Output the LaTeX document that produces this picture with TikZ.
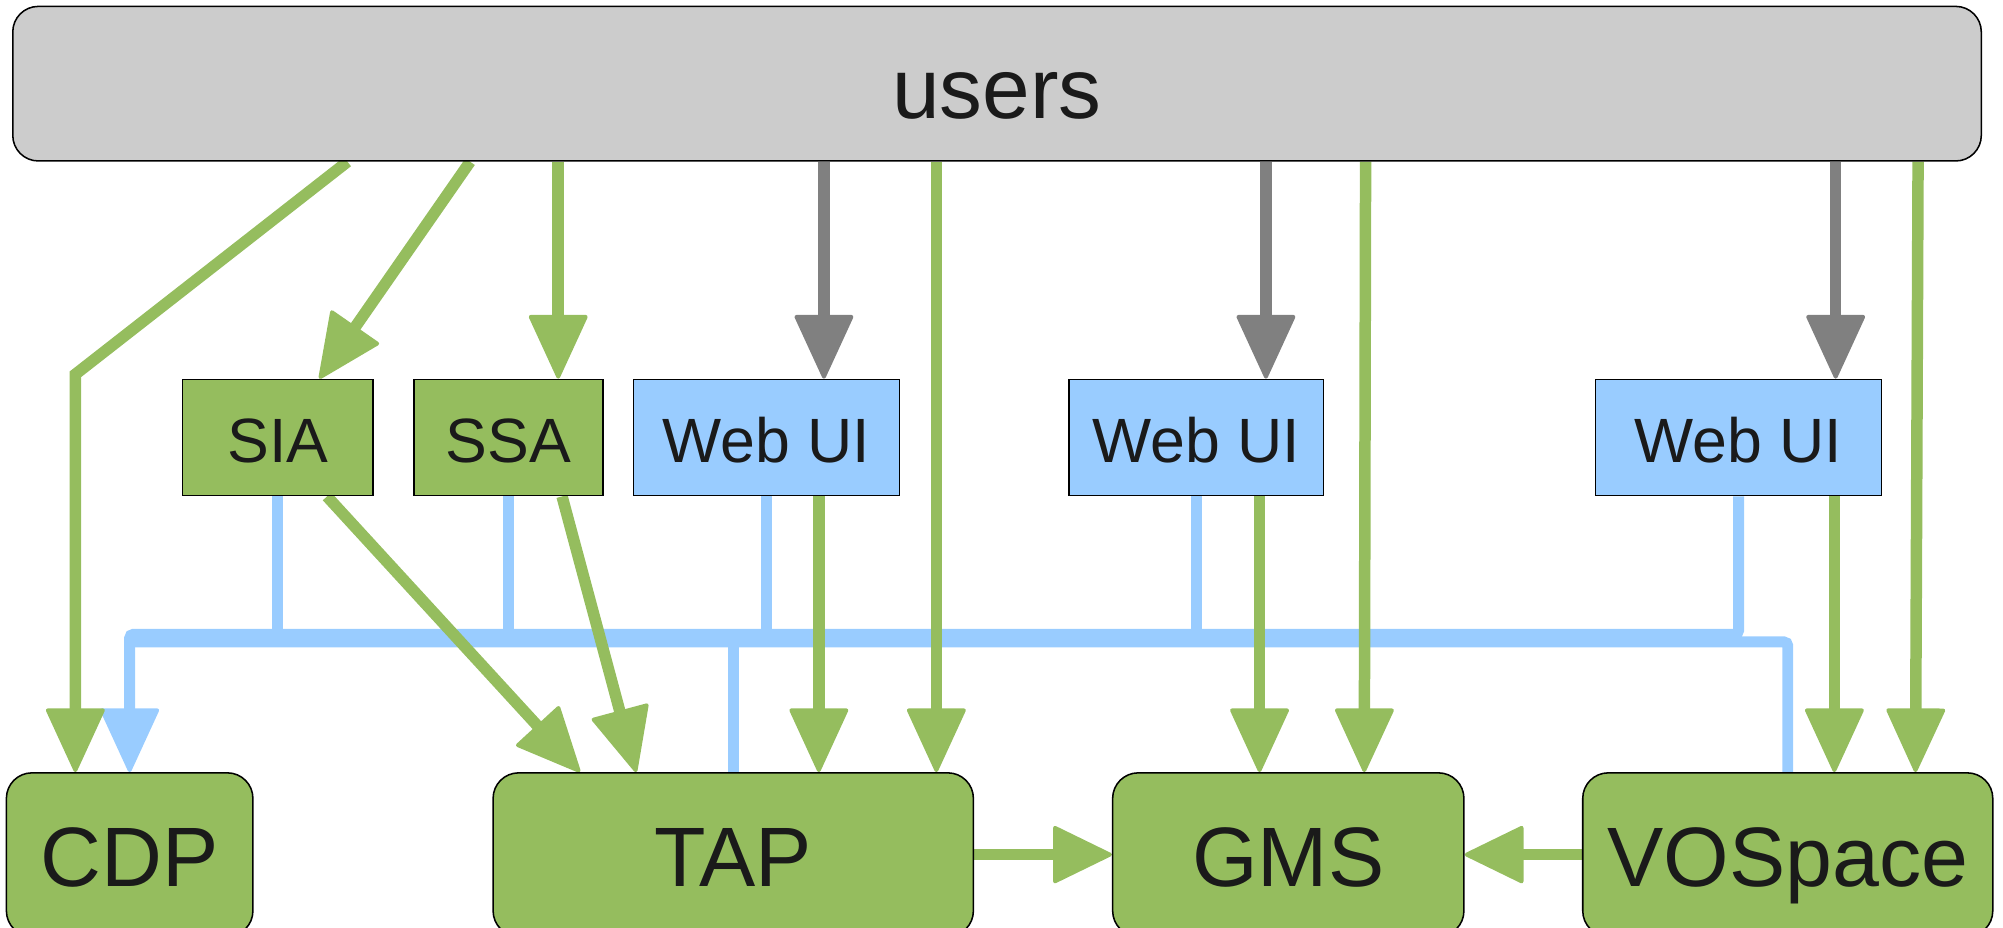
\documentclass[tikz,border=0pt]{standalone}
\usepackage{fontspec}
\setmainfont{Liberation Sans}
\usetikzlibrary{arrows.meta,backgrounds}

\definecolor{leaf}{HTML}{95BD5E}
\definecolor{sky}{HTML}{99CCFF}
\definecolor{shade}{HTML}{CCCCCC}
\definecolor{steel}{HTML}{808080}
\definecolor{ink}{HTML}{1A1A1A}

\tikzset{
  box/.style={draw=black, line width=1.2pt, text=ink, inner sep=0pt},
  service/.style={box, fill=leaf, rounded corners=20pt,
    minimum height=128pt, font=\fontsize{66}{79}\selectfont,
    text height=59.7pt, text depth=10.5pt},
  proto/.style={box, fill=leaf, minimum height=91pt,
    font=\fontsize{49}{59}\selectfont, text height=44.3pt, text depth=5.3pt},
  webui/.style={proto, fill=sky},
  gline/.style={draw=leaf, line width=9pt},
  kline/.style={draw=steel, line width=9pt},
  bline/.style={draw=sky, line width=8.5pt, rounded corners=3pt},
  tipv/.style={-{Triangle[length=52pt,width=47pt,line width=3pt,round]}},
  tiph/.style={-{Triangle[length=48pt,width=46pt,line width=3pt,round]}},
}

\begin{document}
\begin{tikzpicture}[x=1pt, y=-1pt]
  \useasboundingbox (0,0) rectangle (1568,726);
  \clip (0,0) rectangle (1568,726);

  % top row: the users bar
  \node[box, fill=shade, rounded corners=20pt, minimum width=1541pt,
        minimum height=121pt, font=\fontsize{67}{80}\selectfont,
        text height=60.6pt, text depth=6.6pt] (users) at (780.5,65.5) {users};

  % middle row: protocol services and web front ends
  \node[proto, minimum width=149pt] (sia) at (217.5,342.5) {SIA};
  \node[proto, minimum width=148pt] (ssa) at (398,342.5) {SSA};
  \node[webui, minimum width=208pt] (webA) at (600,342.5) {Web UI};
  \node[webui, minimum width=199pt] (webB) at (936.5,342.5) {Web UI};
  \node[webui, minimum width=224pt] (webC) at (1361,342.5) {Web UI};

  % bottom row: back-end services
  \node[service, minimum width=193pt] (cdp) at (101.5,669) {CDP};
  \node[service, minimum width=376pt] (tap) at (574,669) {TAP};
  \node[service, minimum width=275pt] (gms) at (1008.5,669) {GMS};
  \node[service, minimum width=321pt] (vos) at (1399.5,669) {VOSpace};

  \coordinate (cdpbend) at (59,293);
  \coordinate (busU) at (101.5,496.5);
  \coordinate (busL) at (101.5,502.5);

  \begin{pgfonlayer}{background}
    % shared blue bus
    \draw[bline, tipv] (webC.south) |- (busU) -- (busU |- cdp.north);
    \draw[bline] (vos.north) |- (busL);
    \draw[bline] (tap.north) -- (tap.north |- busL);
    \draw[bline] (sia.south) -- (sia.south |- busU);
    \draw[bline] (ssa.south) -- (ssa.south |- busU);
    \draw[bline] (webA.south) -- (webA.south |- busU);
    \draw[bline] (webB.south) -- (webB.south |- busU);

    % users to services
    \draw[gline, tipv] (272,0 |- users.south) -- (cdpbend) -- (cdpbend |- cdp.north);
    \draw[gline, tipv] (368,0 |- users.south) -- (250,0 |- sia.north);
    \draw[gline, tipv] (437,0 |- users.south) -- (437,0 |- ssa.north);
    \draw[kline, tipv] (645,0 |- users.south) -- (645,0 |- webA.north);
    \draw[gline, tipv] (733,0 |- users.south) -- (733,0 |- tap.north);
    \draw[kline, tipv] (991,0 |- users.south) -- (991,0 |- webB.north);
    \draw[gline, tipv] (1069,0 |- users.south) -- (1068,0 |- gms.north);
    \draw[kline, tipv] (1437,0 |- users.south) -- (1437,0 |- webC.north);
    \draw[gline, tipv] (1501.5,0 |- users.south) -- (1499.5,0 |- vos.north);

    % middle row to back ends
    \draw[gline, tipv] (256,0 |- sia.south) -- (454,0 |- tap.north);
    \draw[gline, tipv] (440,0 |- ssa.south) -- (498,0 |- tap.north);
    \draw[gline, tipv] (641,0 |- webA.south) -- (641,0 |- tap.north);
    \draw[gline, tipv] (986,0 |- webB.south) -- (986,0 |- gms.north);
    \draw[gline, tipv] (1436,0 |- webC.south) -- (1436,0 |- vos.north);

    % back end to GMS
    \draw[gline, tiph] (tap.east) -- (gms.west);
    \draw[gline, tiph] (vos.west) -- (gms.east);
  \end{pgfonlayer}
\end{tikzpicture}
\end{document}
